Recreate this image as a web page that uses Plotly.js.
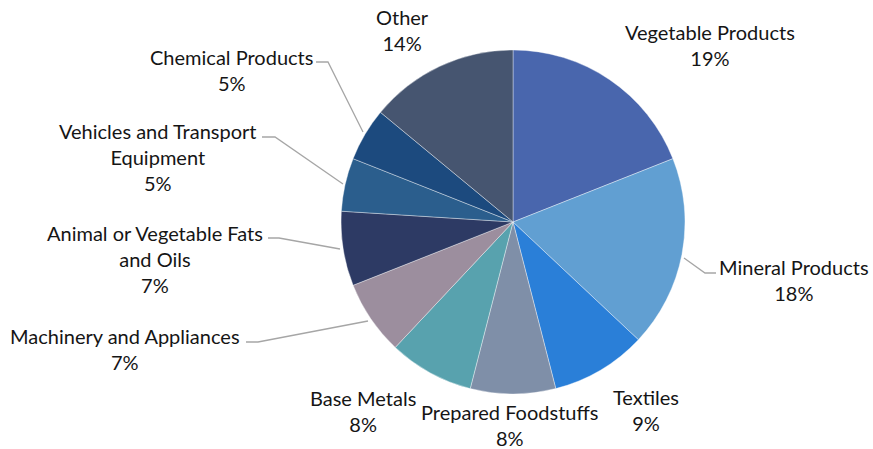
<!DOCTYPE html>
<html>
<head>
<meta charset="utf-8">
<script src="https://cdn.plot.ly/plotly-3.0.1.min.js"></script>
<style>html,body{margin:0;padding:0;background:#fff;}#chart{width:873px;height:449px;}</style>
</head>
<body>
<div id="chart"></div>
<script>
// Data
var categories = ["Vegetable Products", "Mineral Products", "Textiles", "Prepared Foodstuffs", "Base Metals",
  "Machinery and Appliances", "Animal or Vegetable Fats and Oils", "Vehicles and Transport Equipment",
  "Chemical Products", "Other"];
var labelText = ["Vegetable Products", "Mineral Products", "Textiles", "Prepared Foodstuffs", "Base Metals",
  "Machinery and Appliances", "Animal or Vegetable Fats<br>and Oils", "Vehicles and Transport<br>Equipment",
  "Chemical Products", "Other"];
var shares = [19, 18, 9, 8, 8, 7, 7, 5, 5, 14];
var colors = ["#4966ad", "#619fd2", "#2a7fd8", "#7f8fa8", "#58a2ae", "#9c8e9e", "#2d3a64", "#2b5e8d", "#1c4a7e", "#465570"];

// Layout (pixel positions of label blocks and leader lines)
var W = 873, H = 449;
var cx = 513, cy = 222, R = 172;
var labelPos = [[710, 45], [794, 280], [646, 410], [509, 425], [363, 411], [125, 349], [155, 259], [157, 157], [231, 70], [402, 30]];
var leaders = [
  null,
  [[684, 258], [705, 273], [716, 273]],
  null, null, null,
  [[368, 321], [258, 342], [246, 342]],
  [[340, 249], [279, 238], [268, 238]],
  [[343, 184], [275, 137], [262, 137]],
  [[363, 132], [328, 62], [316, 62]],
  null
];

function px(x) { return x / W; }
function py(y) { return 1 - y / H; }

var total = shares.reduce(function (a, b) { return a + b; }, 0);
var annotations = categories.map(function (c, i) {
  return {
    xref: 'paper', yref: 'paper', x: px(labelPos[i][0]), y: py(labelPos[i][1]),
    xanchor: 'center', yanchor: 'middle', showarrow: false, align: 'center',
    text: labelText[i] + '<br>' + Math.round(shares[i] / total * 100) + '%',
    font: {family: 'Lato, "Open Sans", sans-serif', size: 20, color: '#151515'}
  };
});
var shapes = leaders.filter(function (l) { return l; }).map(function (l) {
  var d = 'M' + l.map(function (p) { return px(p[0]) + ',' + py(p[1]); }).join(' L');
  return {type: 'path', xref: 'paper', yref: 'paper', path: d, line: {color: '#a6a6a6', width: 1.3}};
});

var trace = {
  type: 'pie', labels: categories, values: shares, sort: false, direction: 'clockwise', rotation: 0,
  marker: {colors: colors, line: {color: 'rgba(255,255,255,0.55)', width: 0.7}},
  textinfo: 'none', hoverinfo: 'label+percent', showlegend: false,
  domain: {x: [px(cx - R), px(cx + R)], y: [py(cy + R), py(cy - R)]}
};

Plotly.newPlot('chart', [trace], {
  width: W, height: H, margin: {l: 0, r: 0, t: 0, b: 0},
  paper_bgcolor: '#ffffff', showlegend: false,
  annotations: annotations, shapes: shapes
}, {displayModeBar: false, staticPlot: true});
</script>
</body>
</html>
